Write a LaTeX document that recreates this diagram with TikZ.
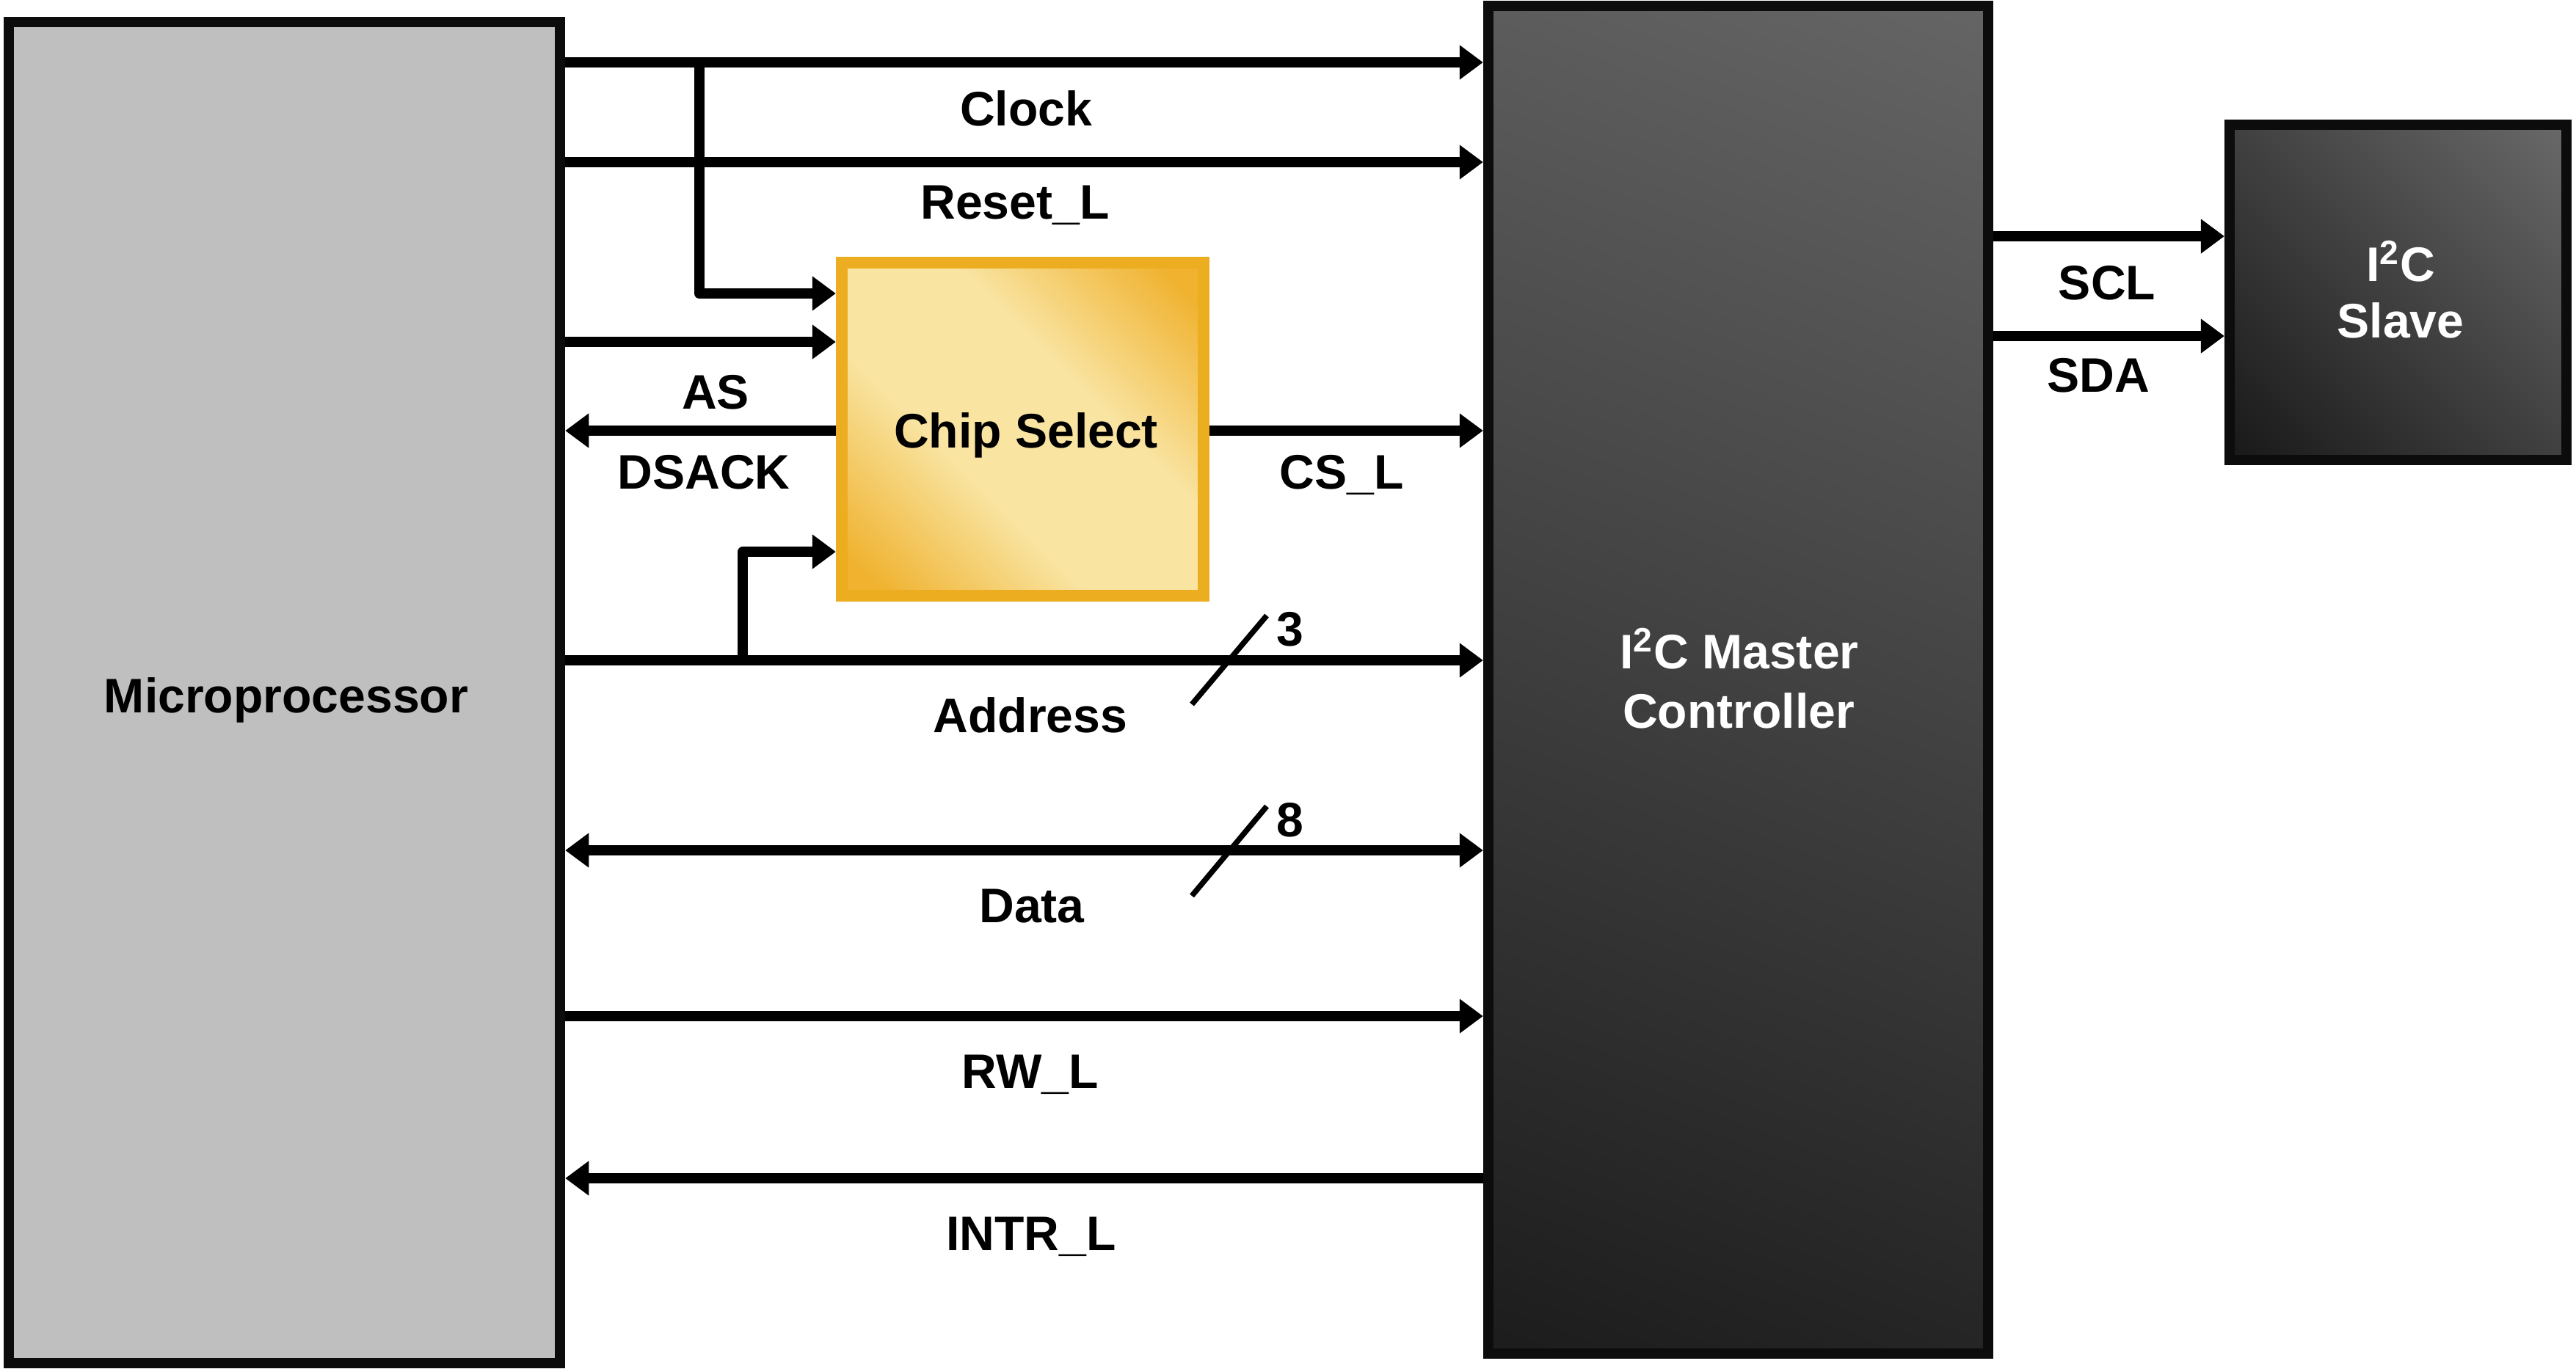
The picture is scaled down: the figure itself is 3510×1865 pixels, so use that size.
\documentclass[tikz,border=0pt]{standalone}
\usepackage{fontspec}
\setmainfont{Liberation Sans}
\usetikzlibrary{arrows.meta}
\definecolor{mpgray}{HTML}{BFBFBF}
\definecolor{boxline}{HTML}{0C0C0C}
\definecolor{csline}{HTML}{ECAD21}
\definecolor{csdark}{HTML}{F0B22F}
\definecolor{cslight}{HTML}{F9E4A2}
\definecolor{mdark}{HTML}{1A1A1A}
\definecolor{mlight}{HTML}{676767}
\pgfdeclarehorizontalshading{csshade}{100bp}{color(0bp)=(csdark); color(19bp)=(csdark); color(40bp)=(cslight); color(60bp)=(cslight); color(81bp)=(csdark); color(100bp)=(csdark)}
\pgfdeclarehorizontalshading{darkshade}{100bp}{color(0bp)=(mdark); color(16bp)=(mdark); color(84bp)=(mlight); color(100bp)=(mlight)}
\tikzset{
  box/.style={draw=boxline, line width=1.4mm, inner sep=0pt},
  sig/.style={line width=1.4mm, line join=round, -{Triangle[length=3.2mm,width=4.5mm]}},
  bisig/.style={line width=1.4mm, {Triangle[length=3.2mm,width=4.5mm]}-{Triangle[length=3.2mm,width=4.5mm]}},
  busmark/.style={line width=0.75mm},
  lbl/.style={font=\bfseries\fontsize{18.8pt}{22pt}\selectfont, inner sep=0pt, anchor=base},
  wlbl/.style={lbl, text=white}
}
\begin{document}
\begin{tikzpicture}[x=0.01cm, y=-0.01cm]
\useasboundingbox (0,0) rectangle (3510,1865);

% boxes
\node[box, fill=mpgray, minimum width=7.51cm, minimum height=18.26cm] (mp) at (387.5,944) {};
\node[box, shade, shading=darkshade, shading angle=69.6, minimum width=6.81cm, minimum height=18.35cm] (ms) at (2368.5,926.5) {};
\node[box, shade, shading=darkshade, shading angle=45, minimum width=4.59cm, minimum height=4.57cm] (sl) at (3267.5,398.5) {};
\node[draw=csline, line width=1.6mm, inner sep=0pt, shade, shading=csshade, shading angle=45, minimum width=4.93cm, minimum height=4.54cm] (cs) at (1393.5,585) {};

% box texts
\node[lbl] (mptext) at (390,971) {Microprocessor};
\node[wlbl] (mstext1) at (2370,911) {I\textsuperscript{2}C Master};
\node[wlbl] (mstext2) at (2369,992) {Controller};
\node[wlbl] (sltext1) at (3271,383) {I\textsuperscript{2}C};
\node[wlbl] (sltext2) at (3271,460) {Slave};
\node[lbl] (cstext) at (1398,610) {Chip Select};

% branch points
\coordinate (clkbr) at (953,85);
\coordinate (adrbr) at (1012,900);

% signals
\draw[sig] (mp.east |- 0,85) -- (ms.west |- 0,85);
\draw[sig] (clkbr) |- (cs.west |- 0,400);
\draw[sig] (mp.east |- 0,221) -- (ms.west |- 0,221);
\draw[sig] (mp.east |- 0,466) -- (cs.west |- 0,466);
\draw[sig] (cs.west |- 0,587) -- (mp.east |- 0,587);
\draw[sig] (cs.east |- 0,587) -- (ms.west |- 0,587);
\draw[sig] (mp.east |- 0,900) -- (ms.west |- 0,900);
\draw[sig] (adrbr) |- (cs.west |- 0,752);
\draw[bisig] (mp.east |- 0,1159) -- (ms.west |- 0,1159);
\draw[sig] (mp.east |- 0,1385) -- (ms.west |- 0,1385);
\draw[sig] (ms.west |- 0,1606) -- (mp.east |- 0,1606);
\draw[sig] (ms.east |- 0,322) -- (sl.west |- 0,322);
\draw[sig] (ms.east |- 0,458) -- (sl.west |- 0,458);

% bus width marks
\draw[busmark] (1624,960) -- (1726,839);
\draw[busmark] (1624,1221) -- (1726,1099);

% signal labels
\node[lbl] (lclock) at (1398,171) {Clock};
\node[lbl] (lreset) at (1383,298) {Reset\_L};
\node[lbl] (las) at (975,557) {AS};
\node[lbl] (ldsack) at (959,666) {DSACK};
\node[lbl] (lcsl) at (1828,666) {CS\_L};
\node[lbl] (l3) at (1758,880) {3};
\node[lbl] (laddr) at (1404,998) {Address};
\node[lbl] (l8) at (1758,1140) {8};
\node[lbl] (ldata) at (1406,1257) {Data};
\node[lbl] (lrw) at (1404,1483) {RW\_L};
\node[lbl] (lintr) at (1405,1704) {INTR\_L};
\node[lbl] (lscl) at (2871,408) {SCL};
\node[lbl] (lsda) at (2859,534) {SDA};
\end{tikzpicture}
\end{document}
